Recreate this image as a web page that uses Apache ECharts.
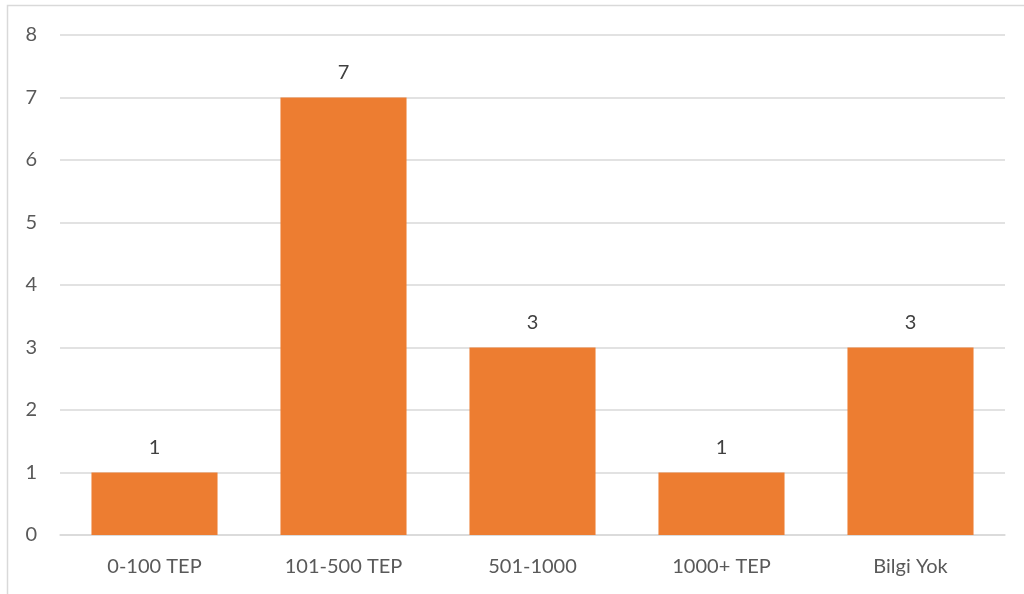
<!DOCTYPE html>
<html>
<head>
<meta charset="utf-8">
<script src="https://cdn.jsdelivr.net/npm/echarts@6/dist/echarts.min.js"></script>
<style>
  html, body { margin: 0; padding: 0; background: #ffffff; }
  #chart { width: 1024px; height: 594px; }
</style>
</head>
<body>
<div id="chart"></div>
<script>
// Categories and counts
const categories = ['0-100 TEP', '101-500 TEP', '501-1000', '1000+ TEP', 'Bilgi Yok'];
const counts = [1, 7, 3, 1, 3];
const yTicks = [0, 1, 2, 3, 4, 5, 6, 7, 8];

const chart = echarts.init(document.getElementById('chart'), null, { renderer: 'canvas' });
const fontFamily = 'Lato, "Open Sans", "Liberation Sans", sans-serif';

chart.setOption({
  animation: false,
  backgroundColor: '#ffffff',
  graphic: [{
    type: 'rect',
    shape: { x: 7.5, y: 5.5, width: 1030, height: 600 },
    style: { fill: 'none', stroke: '#D9D9D9', lineWidth: 1.5 },
    silent: true
  }],
  grid: { left: 60, right: 19, top: 35, bottom: 59, containLabel: false },
  xAxis: {
    type: 'category',
    data: categories,
    axisLine: { show: true, lineStyle: { color: '#D9D9D9', width: 1.5 } },
    axisTick: { show: false },
    axisLabel: { color: '#595959', fontSize: 20, fontFamily: fontFamily, margin: 22 }
  },
  yAxis: {
    type: 'value',
    min: yTicks[0],
    max: yTicks[yTicks.length - 1],
    interval: 1,
    axisLine: { show: false },
    axisTick: { show: false },
    splitLine: { lineStyle: { color: '#D9D9D9', width: 1.5 } },
    axisLabel: { color: '#595959', fontSize: 20, fontFamily: fontFamily, margin: 23 }
  },
  series: [{
    type: 'bar',
    data: counts,
    barWidth: '66.7%',
    itemStyle: { color: '#ED7D31' },
    label: {
      show: true,
      position: 'top',
      distance: 15,
      color: '#404040',
      fontSize: 20,
      fontFamily: fontFamily
    }
  }]
});
</script>
</body>
</html>
